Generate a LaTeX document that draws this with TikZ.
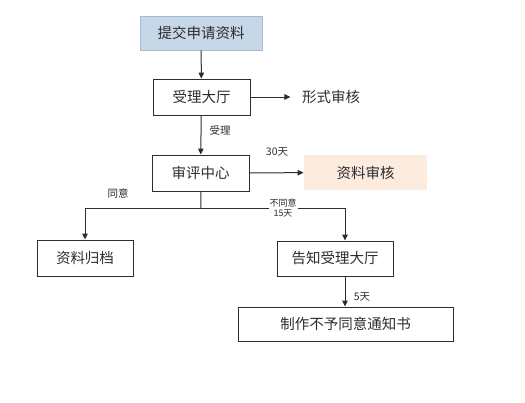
\documentclass[tikz,border=0pt]{standalone}
\usepackage{fontspec}
\newfontfamily\cjk{Noto Sans CJK SC}
\usetikzlibrary{positioning,arrows.meta,calc}
\definecolor{applyblue}{RGB}{198,215,232}
\definecolor{applyedge}{RGB}{165,188,212}
\definecolor{reviewpeach}{RGB}{252,236,224}
\definecolor{inkgray}{RGB}{45,45,45}

\begin{document}
\begin{tikzpicture}[x=1pt, y=-1pt, >={Triangle[length=6pt,width=5.5pt]}]
\useasboundingbox (0,0) rectangle (525,402);
\tikzset{
  box/.style={draw=inkgray, line width=0.9pt, inner sep=0pt, text=inkgray,
              font=\cjk\fontsize{14.5}{15}\selectfont},
  tag/.style={text=inkgray, inner sep=1pt, font=\cjk\fontsize{10.5}{11}\selectfont},
  link/.style={draw=inkgray, line width=1pt}
}

% ---------------- boxes ----------------
\node[box, draw=applyedge, fill=applyblue, minimum width=122pt, minimum height=34pt] (apply) at (201,33) {提交申请资料};
\node[box, minimum width=97pt, minimum height=36pt] (hall) at (201.5,97) {受理大厅};
\node[tag, font=\cjk\fontsize{14.5}{15}\selectfont] (form) at (331,97) {形式审核};
\node[box, minimum width=97pt, minimum height=36pt] (center) at (200.5,173) {审评中心};
\node[box, draw=none, fill=reviewpeach, minimum width=123pt, minimum height=35pt] (review) at (365.5,172.5) {资料审核};
\node[box, minimum width=96pt, minimum height=36pt] (archive) at (85,258) {资料归档};
\node[box, minimum width=116pt, minimum height=35pt] (notify) at (335,258.5) {告知受理大厅};
\node[box, minimum width=215pt, minimum height=34pt] (notice) at (345.5,324) {制作不予同意通知书};

\coordinate (split) at (201,208);
\coordinate (rturn) at (345,208);

% ---------------- connectors ----------------
\draw[link, ->] (apply) -- (hall);
\draw[link, ->] (hall.east) -- ++(40,0) coordinate (formtip);
\draw[link, ->] (hall) -- (center);
\draw[link, ->] (center) -- (review);
\draw[link] (center) -- (split);
\draw[link, ->] (split) -| (archive.north);
\draw[link, ->] (split) -- (rturn) -- (rturn |- notify.north);
\draw[link, ->] (rturn |- notify.south) -- (rturn |- notice.north);

% ---------------- labels ----------------
\node[tag] (accept) at (220,130) {受理};
\node[tag] (days30) at (277,152) {30天};
\node[tag] (agree) at (118,193) {同意};
\node[tag, fill=white, font=\cjk\fontsize{9}{10}\selectfont, align=center] (refuse) at (283,208.5) {不同意\\15天};
\node[tag] (days5) at (362,297) {5天};

\end{tikzpicture}
\end{document}
